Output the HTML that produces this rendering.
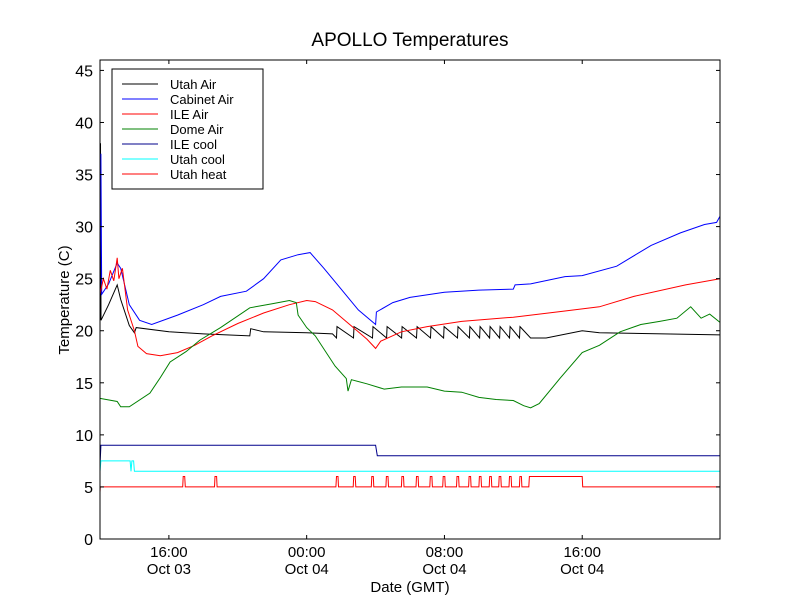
<!DOCTYPE html>
<html><head><meta charset="utf-8"><style>
body{margin:0;background:#fff;font-family:"Liberation Sans","DejaVu Sans",sans-serif}
</style></head><body>
<svg id="c" width="800" height="600" xmlns="http://www.w3.org/2000/svg">
<rect width="800" height="600" fill="#fff"/>
<text x="410" y="46" text-anchor="middle" font-size="19">APOLLO Temperatures</text>
<text x="410" y="592" text-anchor="middle" font-size="15">Date (GMT)</text>
<text transform="translate(69,300) rotate(-90)" text-anchor="middle" font-size="15">Temperature (C)</text>
<g id="plot"></g>
<g id="axes"></g>
<g id="legend"></g>
</svg>
<script>
// hours since 12:00 Oct 03
const yTicks=[0,5,10,15,20,25,30,35,40,45];
const xTickHours=[4,12,20,28];
const xTickLabels1=["16:00","00:00","08:00","16:00"];
const xTickLabels2=["Oct 03","Oct 04","Oct 04","Oct 04"];
const seriesNames=["Utah Air","Cabinet Air","ILE Air","Dome Air","ILE cool","Utah cool","Utah heat"];
const seriesColors=["#000000","#0000ff","#ff0000","#008000","#00008b","#00ffff","#ff0000"];
const utahAirStart=[[0,21],[0.03,38],[0.06,21],[0.5,22.5],[1.0,24.4],[1.2,23],[1.7,20.5],[2.0,19.8],[2.1,20.3],[4,19.9],[6,19.7],[8.7,19.5],[8.75,20.2],[9.5,19.9],[12,19.8],[13.5,19.7]];
const utahAirPeaks=[13.76,14.75,15.85,16.67,17.54,18.41,19.22,19.98,20.79,21.48,22.07,22.65,23.23,23.81,24.39];
const utahAirEnd=[[25,19.3],[25.9,19.3],[28,20],[29,19.8],[36,19.6]];
const sawPeak=[20.4], sawTrough=[19.3];
const cabinetAir=[[0,23],[0.05,37],[0.1,23.5],[0.5,24.5],[1.0,26.5],[1.2,26],[1.7,22.5],[2.3,21],[3.0,20.6],[4.5,21.5],[6,22.5],[7,23.3],[8.5,23.8],[9.5,25],[10.5,26.8],[11.5,27.3],[12.2,27.5],[13,26],[14,24],[15,22],[16,20.6],[16.05,21.8],[17,22.7],[18,23.2],[20,23.7],[22,23.9],[24,24.0],[24.1,24.4],[25,24.5],[27,25.2],[28,25.3],[30,26.2],[30.6,26.8],[32,28.2],[33.7,29.4],[35.1,30.2],[35.8,30.4],[36,31]];
const ileAir=[[0,23.5],[0.2,25],[0.4,24],[0.6,25.8],[0.8,24.8],[1.0,27],[1.1,25],[1.3,26],[1.6,22],[2,20],[2.2,18.5],[2.7,17.8],[3.5,17.6],[4.5,17.9],[5.5,18.6],[6.5,19.5],[8,20.7],[9.5,21.7],[11,22.5],[12,22.9],[12.5,22.8],[13.5,22],[14.5,20.6],[15.5,19.2],[16,18.3],[16.3,19],[17.5,19.9],[19,20.4],[21,20.9],[24,21.3],[27,21.9],[29,22.3],[31,23.3],[34,24.4],[36,25.0]];
const domeAir=[[0,13.5],[1,13.2],[1.2,12.7],[1.7,12.7],[2.9,14.0],[3.5,15.5],[4.07,17.0],[5,18.0],[5.8,19.1],[7,20.3],[8.7,22.2],[10,22.6],[11,22.9],[11.4,22.7],[11.5,21.5],[12,20.3],[12.5,19.5],[13.65,16.6],[14.3,15.4],[14.4,14.2],[14.6,15.3],[15.5,14.9],[16.5,14.4],[17.5,14.6],[19,14.6],[20,14.2],[21,14.1],[22,13.6],[23,13.4],[24,13.3],[24.6,12.8],[25,12.6],[25.5,13.0],[26.7,15.4],[28,17.9],[29,18.6],[30.2,19.9],[31.4,20.6],[32.5,20.9],[33.5,21.2],[34.3,22.3],[34.9,21.2],[35.4,21.6],[36,20.8]];
const ileCool=[[0,7],[0.05,9],[16,9],[16.1,8],[36,8]];
const utahCool=[[0,6.5],[0.05,7.5],[1.75,7.5],[1.8,6.5],[1.85,7.5],[1.95,7.5],[2.0,6.5],[36,6.5]];
const utahHeatPulses=[4.8,6.65,13.7,14.7,15.75,16.6,17.5,18.35,19.15,19.9,20.7,21.4,22.0,22.6,23.15,23.75,24.35];
const utahHeatBlock=[[24.9,28.0]];
const heatBase=[5], heatOn=[6];

const X0=100,X1=720,Y0=539,Y1=60,H=36,V=46;
const sx=h=>X0+h*(X1-X0)/H, sy=v=>Y0-v*(Y0-Y1)/V;
const NS="http://www.w3.org/2000/svg";
function mk(t,a,p){const e=document.createElementNS(NS,t);for(const k in a)e.setAttribute(k,a[k]);p.appendChild(e);return e;}
const plot=document.getElementById('plot'),axes=document.getElementById('axes'),leg=document.getElementById('legend');
const clip=mk('clipPath',{id:'cp'},plot);mk('rect',{x:X0,y:Y1,width:X1-X0,height:Y0-Y1},clip);
function line(pts,color,name){const p=mk('polyline',{points:pts.map(q=>sx(q[0]).toFixed(1)+','+sy(q[1]).toFixed(1)).join(' '),fill:'none',stroke:color,'stroke-width':1,'clip-path':'url(#cp)'},plot);

}
// utah air composed
let ua=utahAirStart.slice();
utahAirPeaks.forEach(t=>{ua.push([t-0.03,sawTrough[0]]);ua.push([t,sawPeak[0]]);});
ua=ua.concat(utahAirEnd);
let uh=[[0,4.5],[0.02,heatBase[0]]];
utahHeatPulses.forEach(t=>{uh.push([t,heatBase[0]],[t+0.03,heatOn[0]],[t+0.12,heatOn[0]],[t+0.15,heatBase[0]]);});
utahHeatBlock.forEach(b=>{uh.push([b[0],heatBase[0]],[b[0]+0.03,heatOn[0]],[b[1],heatOn[0]],[b[1]+0.03,heatBase[0]]);});
uh.push([36,heatBase[0]]);
const all=[ua,cabinetAir,ileAir,domeAir,ileCool,utahCool,uh];
const sn=["utah-air-line","cabinet-air-line","ile-air-line","dome-air-line","ile-cool-line","utah-cool-line","utah-heat-line"];
all.forEach((d,i)=>line(d,seriesColors[i],sn[i]));
// axes
const fr=mk('rect',{x:X0,y:Y1,width:X1-X0,height:Y0-Y1,fill:'none',stroke:'#000','stroke-width':1},axes);


yTicks.forEach(v=>{const y=sy(v);mk('line',{x1:X0,x2:X0+4,y1:y,y2:y,stroke:'#000'},axes);mk('line',{x1:X1,x2:X1-4,y1:y,y2:y,stroke:'#000'},axes);
const t=mk('text',{x:X0-7,y:y+6,'text-anchor':'end','font-size':16},axes);t.textContent=v;

});
xTickHours.forEach((h,i)=>{const x=sx(h);mk('line',{x1:x,x2:x,y1:Y0,y2:Y0-4,stroke:'#000'},axes);mk('line',{x1:x,x2:x,y1:Y1,y2:Y1+4,stroke:'#000'},axes);
const t=mk('text',{x:x,y:557,'text-anchor':'middle','font-size':15},axes);t.textContent=xTickLabels1[i];


const t2=mk('text',{x:x,y:574,'text-anchor':'middle','font-size':15},axes);t2.textContent=xTickLabels2[i];

});
// legend
const lb=mk('rect',{x:112,y:69,width:151,height:120,fill:'#fff',stroke:'#000'},leg);


seriesNames.forEach((n,i)=>{const y=84+i*15;mk('line',{x1:122,x2:158,y1:y,y2:y,stroke:seriesColors[i]},leg);
const t=mk('text',{x:170,y:y+5,'font-size':13},leg);t.textContent=n;

});
</script>
</body></html>
